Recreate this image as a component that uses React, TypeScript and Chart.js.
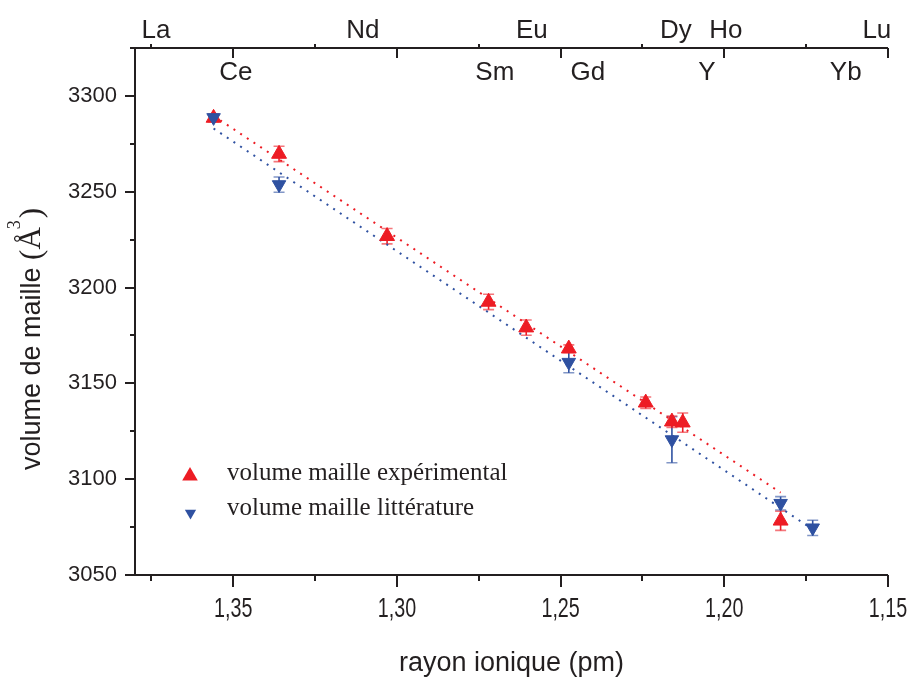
import { useEffect, useRef } from 'react';
import { Chart, registerables } from 'chart.js';

Chart.register(...registerables);

// ---- data ----
const expRadius = [1.356, 1.336, 1.303, 1.272, 1.2605, 1.2475, 1.224, 1.216, 1.2127, 1.1828];
const expVolume = [3288.5, 3269.7, 3226.8, 3192.5, 3179.1, 3168.1, 3139.9, 3130.0, 3129.5, 3078.3];
const expError = [2, 4, 4, 4, 4, 2, 3, 3, 5, 5];

const litRadius = [1.356, 1.336, 1.2475, 1.216, 1.1828, 1.173];
const litVolume = [3288.7, 3253.7, 3161.0, 3120.6, 3087.4, 3074.6];
const litError = [1.5, 4, 5.5, 12, 3.5, 4];

const expFitX = [1.356, 1.1828];
const expFitY = [3289.6, 3093.0];
const litFitX = [1.356, 1.173];
const litFitY = [3283.0, 3073.8];

const xMajorTicks = [1.35, 1.3, 1.25, 1.2, 1.15];
const xMinorTicks = [1.375, 1.325, 1.275, 1.225, 1.175];
const yMajorTicks = [3050, 3100, 3150, 3200, 3250, 3300];
const yMinorTicks = [3075, 3125, 3175, 3225, 3275, 3325];

const elementNames = ['La', 'Ce', 'Nd', 'Sm', 'Eu', 'Gd', 'Dy', 'Ho', 'Y', 'Yb', 'Lu'];
const elementRadii = [1.3736, 1.3492, 1.3104, 1.2701, 1.2588, 1.2417, 1.2148, 1.1995, 1.2053, 1.1629, 1.1534];
const elementRow = [0, 1, 0, 1, 0, 1, 0, 0, 1, 1, 0];

const legendLabels = ['volume maille expérimental', 'volume maille littérature'];

const RED = '#ED1C24';
const BLUE = '#2F51A1';
const INK = '#231F20';
const SANS = '"Liberation Sans", Arial, sans-serif';
const SERIF = '"Liberation Serif", "Times New Roman", serif';

const fmtX = (v: number) => Number(v).toFixed(2).replace('.', ',');

function tri(ctx: CanvasRenderingContext2D, x: number, y: number, r: number, down: boolean, color: string) {
  const s = down ? -1 : 1;
  ctx.beginPath();
  ctx.moveTo(x, y - s * r);
  ctx.lineTo(x + r * 0.866, y + s * r * 0.5);
  ctx.lineTo(x - r * 0.866, y + s * r * 0.5);
  ctx.closePath();
  ctx.fillStyle = color;
  ctx.fill();
}

const customPlugin = {
  id: 'customDecor',
  beforeDatasetsDraw(chart: any) {
    const ctx = chart.ctx as CanvasRenderingContext2D;
    const xs = chart.scales.x;
    const ys = chart.scales.y;
    ctx.save();
    chart.data.datasets.forEach((ds: any) => {
      if (!ds.errors) return;
      ds.data.forEach((p: any, i: number) => {
        const e = ds.errors[i];
        const px = xs.getPixelForValue(p.x);
        const y1 = ys.getPixelForValue(p.y + e);
        const y2 = ys.getPixelForValue(p.y - e);
        ctx.strokeStyle = ds.backgroundColor;
        ctx.lineWidth = 1.6;
        ctx.beginPath();
        ctx.moveTo(px, y1);
        ctx.lineTo(px, y2);
        ctx.stroke();
        ctx.globalAlpha = 0.6;
        ctx.beginPath();
        ctx.moveTo(px - 5.5, y1);
        ctx.lineTo(px + 5.5, y1);
        ctx.moveTo(px - 5.5, y2);
        ctx.lineTo(px + 5.5, y2);
        ctx.stroke();
        ctx.globalAlpha = 1;
      });
    });
    ctx.restore();
  },
  afterDraw(chart: any) {
    const ctx = chart.ctx as CanvasRenderingContext2D;
    const { left, right, top, bottom } = chart.chartArea;
    const xs = chart.scales.x;
    const ys = chart.scales.y;
    ctx.save();
    ctx.strokeStyle = INK;
    ctx.lineWidth = 2;
    ctx.lineCap = 'butt';
    // axis lines
    ctx.beginPath();
    ctx.moveTo(left, top);
    ctx.lineTo(left, bottom);
    ctx.moveTo(left - 1, bottom);
    ctx.lineTo(right, bottom);
    ctx.moveTo(left - 1, top);
    ctx.lineTo(xs.getPixelForValue(1.15), top);
    ctx.stroke();
    // ticks
    ctx.beginPath();
    xMajorTicks.forEach((v) => {
      const px = Math.round(xs.getPixelForValue(v));
      ctx.moveTo(px, bottom);
      ctx.lineTo(px, bottom + 12);
      ctx.moveTo(px, top);
      ctx.lineTo(px, top + 10);
    });
    xMinorTicks.forEach((v) => {
      const px = Math.round(xs.getPixelForValue(v));
      ctx.moveTo(px, bottom);
      ctx.lineTo(px, bottom + 6);
      ctx.moveTo(px, top);
      ctx.lineTo(px, top - 4);
    });
    yMajorTicks.forEach((v) => {
      const py = Math.round(ys.getPixelForValue(v));
      ctx.moveTo(left, py);
      ctx.lineTo(left - 10, py);
    });
    yMinorTicks.forEach((v) => {
      const py = Math.round(ys.getPixelForValue(v));
      ctx.moveTo(left, py);
      ctx.lineTo(left - 5, py);
    });
    ctx.stroke();

    // bottom tick labels (condensed), placed from the x scale's ticks
    ctx.fillStyle = INK;
    ctx.font = `27px ${SANS}`;
    ctx.textAlign = 'center';
    ctx.textBaseline = 'alphabetic';
    xs.ticks.forEach((t: any) => {
      const px = xs.getPixelForValue(t.value);
      ctx.save();
      ctx.translate(px, bottom + 42);
      ctx.scale(0.73, 1);
      ctx.fillText(fmtX(t.value), 0, 0);
      ctx.restore();
    });

    // element labels on top axis
    ctx.fillStyle = INK;
    ctx.font = `26px ${SANS}`;
    ctx.textAlign = 'center';
    ctx.textBaseline = 'alphabetic';
    elementNames.forEach((name, i) => {
      const px = xs.getPixelForValue(elementRadii[i]);
      const py = elementRow[i] === 0 ? top - 10 : top + 32;
      ctx.fillText(name, px, py);
    });

    // legend
    const lx = left + 55;
    tri(ctx, lx, top + 428, 9, false, RED);
    tri(ctx, lx + 0.5, top + 465, 6.5, true, BLUE);
    ctx.fillStyle = INK;
    ctx.font = `25px ${SERIF}`;
    ctx.textAlign = 'left';
    ctx.fillText(legendLabels[0], left + 92, top + 432);
    ctx.fillText(legendLabels[1], left + 92, top + 467);

    // y axis title
    ctx.save();
    ctx.translate(40, bottom - 105);
    ctx.rotate(-Math.PI / 2);
    ctx.textAlign = 'left';
    ctx.textBaseline = 'alphabetic';
    ctx.fillStyle = INK;
    let cx = 0;
    ctx.font = `27px ${SANS}`;
    const t1 = 'volume de maille ';
    ctx.fillText(t1, cx, 0);
    cx += ctx.measureText(t1).width;
    ctx.font = `31px ${SERIF}`;
    ctx.fillText('(', cx, 1);
    cx += ctx.measureText('(').width;
    ctx.fillText('Å', cx, 0);
    cx += ctx.measureText('Å').width;
    ctx.font = `18px ${SERIF}`;
    ctx.fillText('3', cx - 2, -20);
    cx += ctx.measureText('3').width;
    ctx.font = `31px ${SERIF}`;
    ctx.fillText(')', cx, 1);
    ctx.restore();

    ctx.restore();
  },
};

export default function App() {
  const ref = useRef<HTMLCanvasElement | null>(null);
  useEffect(() => {
    if (!ref.current) return;
    const chart = new Chart(ref.current, {
      type: 'scatter',
      data: {
        datasets: [
          {
            label: legendLabels[1],
            data: litRadius.map((x, i) => ({ x, y: litVolume[i] })),
            errors: litError,
            backgroundColor: BLUE,
            borderColor: BLUE,
            pointStyle: 'triangle',
            pointRotation: 180,
            pointRadius: 7.8,
            pointBorderWidth: 1,
          } as any,
          {
            label: legendLabels[0],
            data: expRadius.map((x, i) => ({ x, y: expVolume[i] })),
            errors: expError,
            backgroundColor: RED,
            borderColor: RED,
            pointStyle: 'triangle',
            pointRadius: 8.6,
            pointBorderWidth: 1,
          } as any,
          {
            label: 'fit lit',
            data: litFitX.map((x, i) => ({ x, y: litFitY[i] })),
            showLine: true,
            borderColor: BLUE,
            borderWidth: 2,
            borderDash: [2, 6],
            pointRadius: 0,
            fill: false,
          },
          {
            label: 'fit exp',
            data: expFitX.map((x, i) => ({ x, y: expFitY[i] })),
            showLine: true,
            borderColor: RED,
            borderWidth: 2,
            borderDash: [2, 6],
            pointRadius: 0,
            fill: false,
          },
        ],
      },
      options: {
        animation: false,
        responsive: false,
        devicePixelRatio: 1,
        layout: { padding: { top: 48, right: 22, left: 0, bottom: 0 } },
        plugins: { legend: { display: false }, tooltip: { enabled: false } },
        scales: {
          x: {
            type: 'linear',
            reverse: true,
            min: 1.15,
            max: 1.38,
            afterBuildTicks: (s: any) => {
              s.ticks = xMajorTicks.map((v) => ({ value: v }));
            },
            afterFit: (s: any) => {
              s.height = 109;
              s.paddingLeft = 0;
              s.paddingRight = 0;
            },
            grid: { display: false, drawTicks: false },
            border: { display: false },
            ticks: {
              display: false,
              callback: (v: any) => fmtX(v),
            },
            title: {
              display: true,
              text: 'rayon ionique (pm)',
              font: { family: SANS, size: 27 },
              color: INK,
              padding: { top: 0, bottom: 4 },
            },
          },
          y: {
            type: 'linear',
            min: 3050,
            max: 3325,
            afterBuildTicks: (s: any) => {
              s.ticks = yMajorTicks.map((v) => ({ value: v }));
            },
            afterFit: (s: any) => {
              s.width = 135;
              s.paddingTop = 0;
              s.paddingBottom = 0;
            },
            grid: { display: false, drawTicks: false },
            border: { display: false },
            ticks: {
              callback: (v: any) => String(v),
              font: { family: SANS, size: 22 },
              color: INK,
              padding: 18,
            },
          },
        },
      } as any,
      plugins: [customPlugin],
    });
    return () => chart.destroy();
  }, []);
  return (
    <div style={{ position: 'fixed', left: 0, top: 0, width: 910, height: 684, background: '#fff' }}>
      <canvas ref={ref} width={910} height={684} style={{ width: 910, height: 684, display: 'block' }} />
    </div>
  );
}
